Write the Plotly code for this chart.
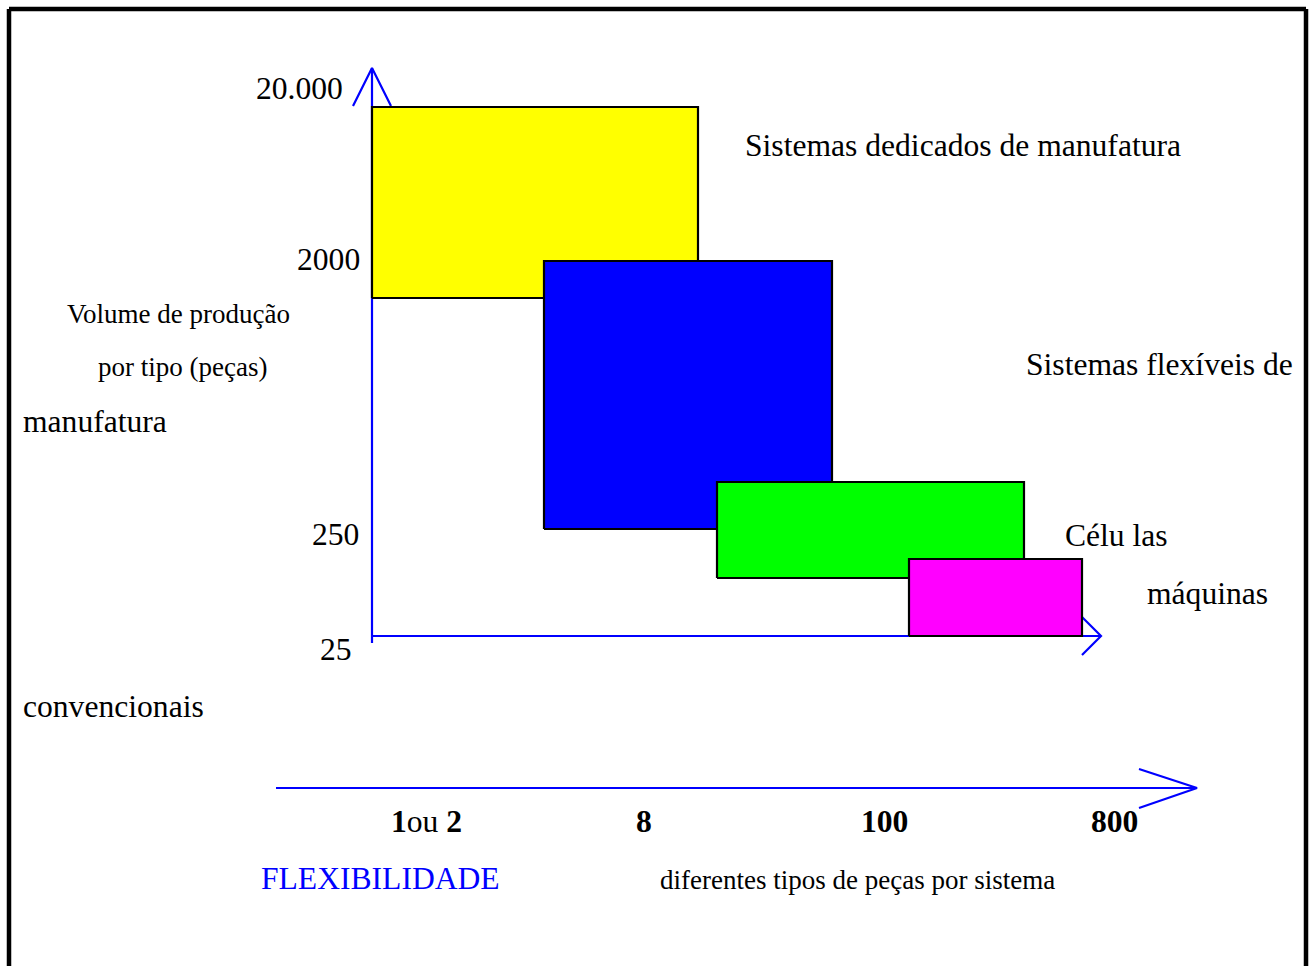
import plotly.graph_objects as go

# Manufacturing systems: range of part variety (x) and production volume (y),
# in schematic diagram units measured from the axes origin.
systems = ["Sistemas dedicados", "Sistemas flexíveis", "Células", "Máquinas"]
variety_lo = [0, 172, 345, 537]
variety_hi = [326, 460, 652, 710]
volume_lo = [338, 107, 58, 0]
volume_hi = [529, 375, 154, 77]

# Volume levels written along the vertical axis
volume_labels = ["20.000", "2000", "250", "25"]
# Part-variety classes written under the flexibility arrow
variety_labels = ["<b>1</b>ou <b>2</b>", "<b>8</b>", "<b>100</b>", "<b>800</b>"]

fill_colors = ["#FFFF00", "#0000FF", "#00FF00", "#FF00FF"]
SERIF = "Liberation Serif, Times New Roman, serif"
AXIS_BLUE = "#0000FF"
W, H = 1314, 966
OX, OY = 372, 636  # origin of the diagram axes on the page
BIG, SMALL = 31.6, 27

fig = go.Figure()

# Axes with open arrowheads
def poly(xs, ys, color=AXIS_BLUE, width=2.2):
    fig.add_trace(go.Scatter(x=xs, y=ys, mode="lines",
                             line=dict(color=color, width=width),
                             hoverinfo="skip", showlegend=False))

poly([0, 0], [-7, 568])                       # vertical axis
poly([-19, 0, 19], [530, 568, 530])           # its arrowhead
poly([0, 729], [0, 0])                        # horizontal axis
poly([710, 729, 710], [19, 0, -19])           # its arrowhead
poly([-96, 825], [-152, -152])                # flexibility arrow
poly([767, 825, 767], [-133, -152, -172])     # its arrowhead

# Filled system blocks, drawn in order so later blocks overlap earlier ones
for name, x0, x1, y0, y1, col in zip(systems, variety_lo, variety_hi,
                                     volume_lo, volume_hi, fill_colors):
    fig.add_trace(go.Scatter(
        x=[x0, x1, x1, x0, x0], y=[y0, y0, y1, y1, y0],
        mode="lines", fill="toself", fillcolor=col,
        line=dict(color="black", width=2.2), name=name,
        hoverinfo="name", showlegend=False,
    ))

def label(text, px, py, anchor="left", size=BIG, color="black"):
    fig.add_annotation(x=px - OX, y=OY - py, text=text, showarrow=False,
                       xanchor=anchor, yanchor="middle",
                       font=dict(family=SERIF, size=size, color=color))

# Volume level labels
for txt, px, py in zip(volume_labels, [345, 362, 361, 354], [88, 259, 534, 649]):
    label(txt, px, py, anchor="right")

# Variety class labels
for txt, px in zip(variety_labels, [426, 644, 884, 1114]):
    label(txt, px, 821, anchor="center")

label("Sistemas dedicados de manufatura", 743, 145)
label("Volume de produção", 65, 314, size=SMALL)
label("por tipo (peças)", 96, 367, size=SMALL)
label("Sistemas flexíveis de", 1024, 364)
label("manufatura", 21, 421)
label("Célu las", 1063, 535)
label("máquinas", 1145, 593)
label("convencionais", 21, 706)
label("FLEXIBILIDADE", 259, 878, color=AXIS_BLUE)
label("diferentes tipos de peças por sistema", 658, 880, size=SMALL)

# Page frame (open at the bottom)
for x0, y0, x1, y1 in [(9, 9, 1306, 9), (9, 9, 9, H + 10), (1306, 9, 1306, H + 10)]:
    fig.add_shape(type="line", xref="paper", yref="paper",
                  x0=x0 / W, x1=x1 / W, y0=1 - y0 / H, y1=1 - y1 / H,
                  line=dict(color="black", width=4.5))

fig.update_layout(
    width=W, height=H,
    margin=dict(l=0, r=0, t=0, b=0, pad=0),
    paper_bgcolor="white", plot_bgcolor="white",
    xaxis=dict(range=[-OX, W - OX], visible=False, fixedrange=True),
    yaxis=dict(range=[OY - H, OY], visible=False, fixedrange=True),
    showlegend=False,
)

fig.write_html("out.html")
